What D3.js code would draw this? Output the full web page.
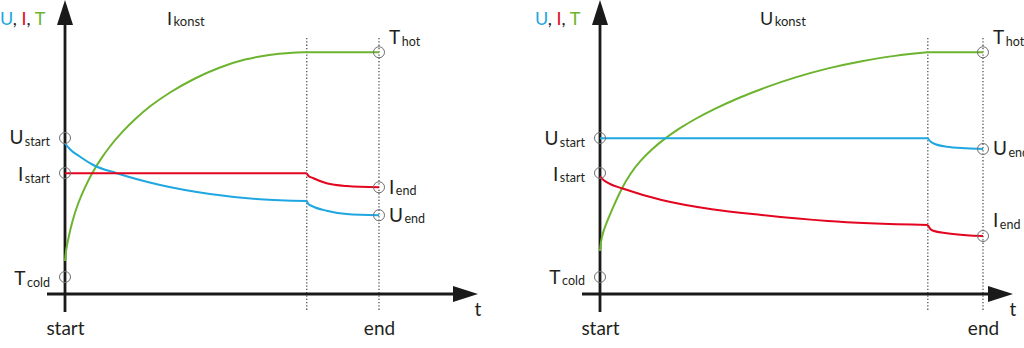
<!DOCTYPE html>
<html>
<head>
<meta charset="utf-8">
<script src="https://cdn.jsdelivr.net/npm/d3@7"></script>
<style>
  html, body { margin: 0; padding: 0; background: #fff; }
  svg { display: block; font-family: Lato, "Open Sans", sans-serif; }
</style>
</head>
<body>
<svg id="chart" width="1024" height="348"></svg>
<script>
// ---- data: time runs 0 (start) .. 100 (end), values on a relative 0..100 scale ----

// constant current: switch-off phase begins at t = 77
const iKonstSwitch = 77;
const iKonstTemp = [[0,13.2],[0.32,17.6],[0.96,21.6],[2.23,28.8],[4.14,36.4],[6.37,42.8],[8.6,48.4],
  [11.15,53.6],[14.33,59.2],[18.15,64.8],[22.29,70],[27.07,75.2],[33.44,80.8],[41.4,86.4],[49.36,90.8],
  [57.32,94],[65.29,95.8],[71.66,96.5],[77,96.7],[100,96.7]];
const iKonstVoltage = [[0,60.3],[1.5,58],[4.8,54.9],[9,51.6],[16.5,48.3],[30.3,43.6],[46.2,40],[62.1,37.9],[77,37.2],
  [77.5,36],[78.6,35.2],[83.3,33.3],[89.7,32],[100,31.5]];
const iKonstCurrent = [[0,48.3],[77,48.3],[77.5,47.3],[79.1,46.3],[83.3,44.3],[89.7,43.2],[100,42.7]];

// constant voltage: switch-off phase begins at t = 85.6
const uKonstSwitch = 85.6;
const uKonstTemp = [[0,17.2],[0.26,21.2],[0.78,24.8],[2.09,30],[3.66,35.6],[5.67,42.3],[7.83,48],[10.44,53.2],
  [13.58,58],[16.97,62.3],[20.89,66.4],[24.8,70],[30.03,74.2],[36.55,78.7],[43.08,82.6],[50.91,86.7],
  [59.53,90.4],[68.41,93.2],[77.02,95.4],[85.6,96.7],[100,96.7]];
const uKonstVoltage = [[0,62.3],[85.6,62.3],[86.3,61],[87,60.3],[90.5,58.9],[95.7,58.3],[100,58]];
const uKonstCurrent = [[0,47],[0.9,45.6],[2.6,44],[5.7,42.3],[16.1,37.6],[29.2,33.9],[42.2,31.6],[59.5,29.2],
  [85.6,27.6],[86.2,26.1],[87,25.3],[90.5,24.3],[95.7,23.5],[100,23.2]];

// reference levels marked on the axes
const levelUstart = 62.4, levelIstart = 48.4, levelTcold = 6.8, levelThot = 96.7;
const iKonstUend = 31.5, iKonstIend = 42.7;
const uKonstUend = 58, uKonstIend = 23.2;

const timeTicks = [0, 100];
const timeTickLabels = ["start", "end"];

// ---- styling ----
const COLOR_U = "#1fa7e1", COLOR_I = "#e3051f", COLOR_T = "#6cb42e";
const INK = "#231f20", MARK = "#6d6e71";

const svg = d3.select("#chart");
const y = d3.scaleLinear().domain([0, 100]).range([294, 44]);

function label(g, x, yy, main, sub, anchor, color) {
  const t = g.append("text").attr("x", x).attr("y", yy)
    .attr("text-anchor", anchor || "start").attr("fill", color || INK)
    .style("font-size", "19px");
  t.append("tspan").text(main);
  if (sub) t.append("tspan").attr("dx", 1.5).attr("dy", 1.5).style("font-size", "12.5px").text(sub);
  return t;
}

function drawPanel(p) {
  const g = svg.append("g");
  const x = d3.scaleLinear().domain([0, 100]).range([p.x0, p.x1]);
  const lineSmooth = d3.line().x(d => x(d[0])).y(d => y(d[1])).curve(d3.curveBasis);
  const lineMono = d3.line().x(d => x(d[0])).y(d => y(d[1])).curve(d3.curveMonotoneX);

  // dotted markers for switch-off and end
  g.selectAll("line.mark").data([p.sw, 100]).join("line")
    .attr("x1", d => x(d)).attr("x2", d => x(d)).attr("y1", 38).attr("y2", 310)
    .attr("stroke", "#333").attr("stroke-width", 1.1).attr("stroke-dasharray", "1.3,2");

  // axes
  const axisY = x(0);
  g.append("line").attr("x1", axisY).attr("x2", axisY).attr("y1", 312).attr("y2", 22)
    .attr("stroke", "#1a1a1a").attr("stroke-width", 2.8);
  g.append("path").attr("d", `M${axisY - 8},25L${axisY + 8},25L${axisY},0Z`).attr("fill", "#1a1a1a");
  g.append("line").attr("x1", p.axisStart).attr("x2", p.tip - 22).attr("y1", y(0)).attr("y2", y(0))
    .attr("stroke", "#1a1a1a").attr("stroke-width", 2.8);
  g.append("path").attr("d", `M${p.tip - 25},${y(0) - 8}L${p.tip - 25},${y(0) + 8}L${p.tip},${y(0)}Z`)
    .attr("fill", "#1a1a1a");

  // time axis labels
  const ax = d3.axisBottom(x).tickValues(timeTicks)
    .tickFormat((d, i) => timeTickLabels[i]).tickSize(0).tickPadding(27.5);
  const axg = g.append("g").attr("transform", `translate(0,${y(0)})`).call(ax);
  axg.select(".domain").remove();
  axg.selectAll("text").attr("fill", INK).style("font-size", "19px").style("font-family", "Lato, 'Open Sans', sans-serif");
  label(g, p.tip, 316, "t", null, "middle");

  // curves, split at the switch-off moment
  p.series.forEach(s => {
    const a = s.data.filter(d => d[0] <= p.sw), b = s.data.filter(d => d[0] >= p.sw);
    const gen = s.smooth ? lineSmooth : lineMono;
    [a, b].forEach(seg => {
      if (seg.length > 1) g.append("path").attr("d", gen(seg)).attr("fill", "none")
        .attr("stroke", s.color).attr("stroke-width", 2);
    });
  });

  // level markers
  g.selectAll("circle.lvl").data(p.markers).join("circle")
    .attr("cx", d => x(d.t)).attr("cy", d => y(d.v)).attr("r", 5.5)
    .attr("fill", "none").attr("stroke", MARK).attr("stroke-width", 1);

  p.markers.forEach(m => {
    if (m.t === 0) label(g, axisY - 15, y(m.v) + m.dy, m.main, m.sub, "end");
    else label(g, x(m.t) + 10, y(m.v) + m.dy, m.main, m.sub, "start");
  });

  // headings
  const h = g.append("text").attr("x", p.legendX).attr("y", 25).style("font-size", "18px");
  [["U", COLOR_U], [", ", INK], ["I", COLOR_I], [", ", INK], ["T", COLOR_T]].forEach(([s, c]) =>
    h.append("tspan").attr("fill", c).text(s));
  const ti = g.append("text").attr("x", p.titleX).attr("y", 25).attr("fill", INK).style("font-size", "18px");
  ti.append("tspan").text(p.title[0]);
  ti.append("tspan").attr("dx", 1.5).attr("dy", 1).style("font-size", "13px").text(p.title[1]);
}

drawPanel({
  x0: 65, x1: 379, sw: iKonstSwitch, axisStart: 47, tip: 478, legendX: 0, titleX: 167,
  title: ["I", "konst"],
  series: [
    { data: iKonstTemp, color: COLOR_T, smooth: true },
    { data: iKonstVoltage, color: COLOR_U },
    { data: iKonstCurrent, color: COLOR_I }
  ],
  markers: [
    { t: 0, v: levelUstart, main: "U", sub: "start", dy: 6 },
    { t: 0, v: levelIstart, main: "I", sub: "start", dy: 8 },
    { t: 0, v: levelTcold, main: "T", sub: "cold", dy: 8 },
    { t: 100, v: levelThot, main: "T", sub: "hot", dy: -8 },
    { t: 100, v: iKonstIend, main: "I", sub: "end", dy: 6.5 },
    { t: 100, v: iKonstUend, main: "U", sub: "end", dy: 6.5 }
  ]
});

drawPanel({
  x0: 600, x1: 983, sw: uKonstSwitch, axisStart: 582, tip: 1013, legendX: 535, titleX: 760,
  title: ["U", "konst"],
  series: [
    { data: uKonstTemp, color: COLOR_T, smooth: true },
    { data: uKonstVoltage, color: COLOR_U },
    { data: uKonstCurrent, color: COLOR_I }
  ],
  markers: [
    { t: 0, v: levelUstart, main: "U", sub: "start", dy: 7 },
    { t: 0, v: levelIstart, main: "I", sub: "start", dy: 7.5 },
    { t: 0, v: levelTcold, main: "T", sub: "cold", dy: 6.5 },
    { t: 100, v: levelThot, main: "T", sub: "hot", dy: -8 },
    { t: 100, v: uKonstUend, main: "U", sub: "end", dy: 6 },
    { t: 100, v: uKonstIend, main: "I", sub: "end", dy: -9 }
  ]
});
</script>
</body>
</html>
